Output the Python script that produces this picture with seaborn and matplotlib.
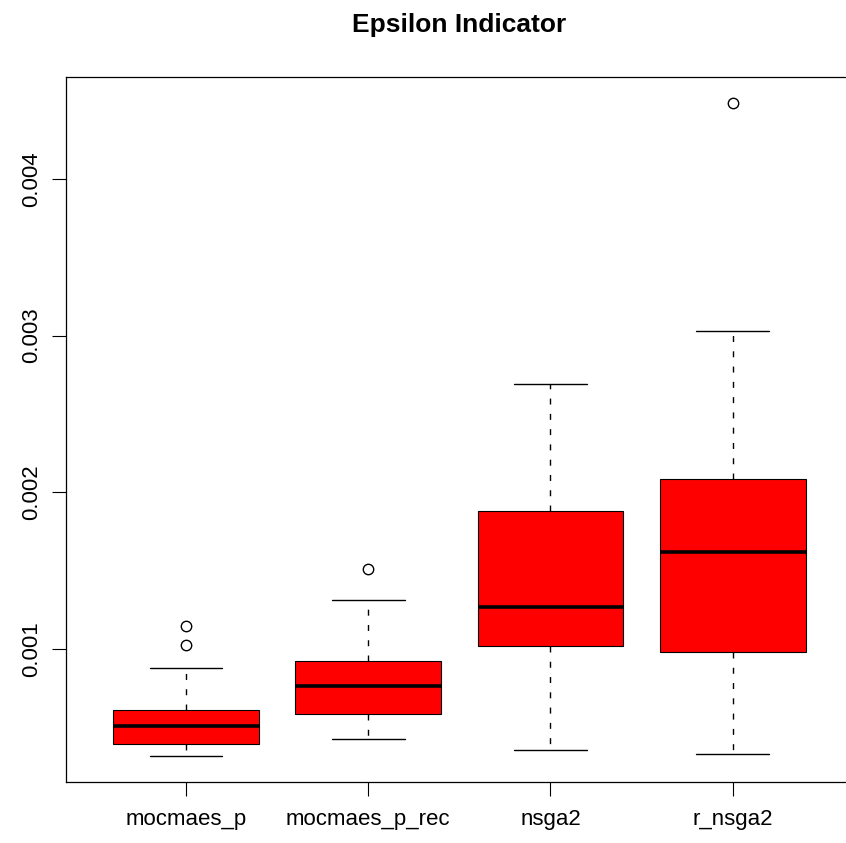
import numpy as np
import pandas as pd
import matplotlib
matplotlib.use("Agg")
import matplotlib.pyplot as plt
from matplotlib.ticker import FormatStrFormatter
import seaborn as sns

# Algorithms compared and their epsilon-indicator summaries
algorithms = ["mocmaes_p", "mocmaes_p_rec", "nsga2", "r_nsga2"]
whisker_low = [0.000318, 0.000427, 0.000353, 0.000325]
q1 = [0.000391, 0.000583, 0.001019, 0.000979]
median = [0.000510, 0.000764, 0.001268, 0.001620]
q3 = [0.000608, 0.000919, 0.001877, 0.002082]
whisker_high = [0.000879, 0.001309, 0.002693, 0.003032]
outliers = [[0.001024, 0.001145], [0.001511], [], [0.004487]]

# Expand each summary into a 13-value sample whose quartiles (linear
# interpolation, positions 3, 6, 9) and whisker ends reproduce the summary.
rows = []
for i, name in enumerate(algorithms):
    upper = [whisker_high[i]] + outliers[i]
    upper += [whisker_high[i]] * (3 - len(upper))
    sample = ([whisker_low[i]] + [q1[i]] * 3 + [median[i]] * 3
              + [q3[i]] * 3 + sorted(upper))
    rows += [(name, v) for v in sample]
df = pd.DataFrame(rows, columns=["algorithm", "epsilon"])

sns.set_style("ticks")
plt.rcParams["font.family"] = ["Liberation Sans", "DejaVu Sans"]
plt.rcParams["lines.scale_dashes"] = False
plt.rcParams["text.color"] = "black"

fig = plt.figure(figsize=(8.46, 8.43), dpi=100)
ax = fig.add_axes([65.7 / 846, 61.3 / 843, 787.3 / 846, 705.0 / 843])

sns.boxplot(
    data=df, x="algorithm", y="epsilon", order=algorithms,
    color="#FF0000", saturation=1, width=0.8, linecolor="black",
    linewidth=0.8, fliersize=7.5, whis=1.5, ax=ax,
    medianprops=dict(color="black", linewidth=2.6),
    whiskerprops=dict(color="black", linestyle=(0, (4.3, 6.7)), linewidth=1.0),
    capprops=dict(color="black", linewidth=1.0),
    flierprops=dict(marker="o", markerfacecolor="none",
                    markeredgecolor="black", markeredgewidth=1.0),
)

# Axis limits extended by 4% like base-R graphics
all_vals = df["epsilon"].to_numpy()
lo, hi = all_vals.min(), all_vals.max()
pad = 0.04 * (hi - lo)
ax.set_ylim(lo - pad, hi + pad)
ax.set_xlim(-0.5 - 0.16, len(algorithms) - 0.5 + 0.16)

ax.set_yticks([0.001, 0.002, 0.003, 0.004])
ax.yaxis.set_major_formatter(FormatStrFormatter("%.3f"))
ax.set_xlabel("")
ax.set_ylabel("")

for s in ax.spines.values():
    s.set_visible(True)
    s.set_color("black")
    s.set_linewidth(0.9)

ax.tick_params(axis="both", direction="out", length=10, width=0.8,
               color="black", labelsize=16, labelcolor="black")
ax.tick_params(axis="x", pad=10)
ax.tick_params(axis="y", pad=7)
for lbl in ax.get_yticklabels():
    lbl.set_rotation(90)
    lbl.set_va("center")

ax.set_title("Epsilon Indicator", fontsize=19, fontweight="bold", pad=32,
             color="black")

fig.savefig("out.png", dpi=100)
